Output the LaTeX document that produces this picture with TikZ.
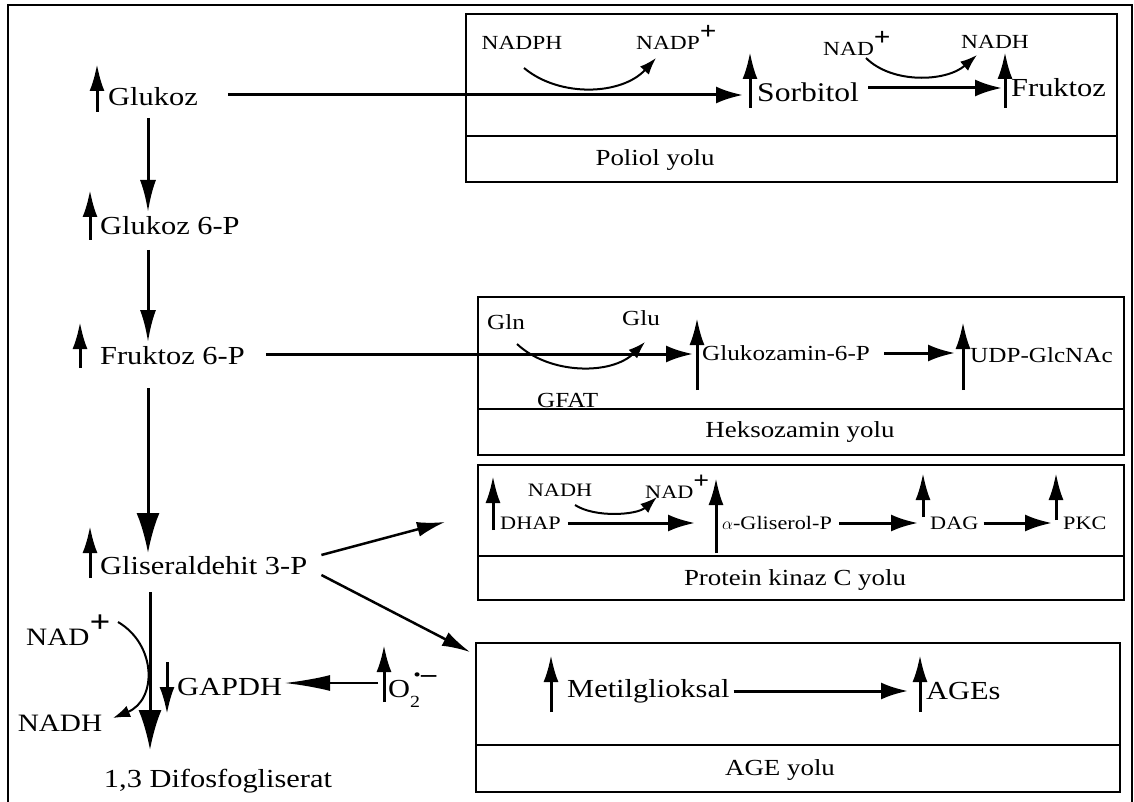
\documentclass[tikz,border=0pt]{standalone}
\usepackage{fontspec}
\setmainfont[FakeStretch=1.17]{Liberation Serif}
\usetikzlibrary{arrows.meta}
\newcommand{\plusup}{\raisebox{0.5em}{\scalebox{1.25}{\textbf{+}}}}
\begin{document}
\begin{tikzpicture}[x=1pt,y=-1pt,
  big/.style={font=\fontsize{26}{28}\selectfont, inner sep=0pt, anchor=west},
  cof/.style={font=\fontsize{20}{22}\selectfont, inner sep=0pt},
  cofL/.style={font=\fontsize{25}{27}\selectfont, inner sep=0pt},
  mid/.style={font=\fontsize{21.5}{23}\selectfont, inner sep=0pt, anchor=west},
  sml/.style={font=\fontsize{19}{21}\selectfont, inner sep=0pt, anchor=west},
  lab/.style={font=\fontsize{23}{25}\selectfont, inner sep=0pt},
  pbox/.style={draw, line width=2.5pt},
  flow/.style={line width=3pt, -{Latex[length=27pt,width=17pt]}},
  vflow/.style={line width=3pt, -{Latex[length=32pt,width=16pt]}},
  bigflow/.style={line width=3pt, -{Latex[length=40pt,width=23pt]}},
  upar/.style={line width=3pt, -{Latex[length=27pt,width=15pt]}},
  curv/.style={line width=2pt, -{Latex[length=17pt,width=12pt]}},
  slim/.style={line width=2.5pt, -{Latex[length=28pt,width=15pt]}},
  harp/.style={line width=2.5pt, -{Latex[length=46pt,width=16pt]}},
]
\useasboundingbox (0,0) rectangle (1134,802);
% outer frame
\draw[line width=2pt] (8,810) -- (8,5) -- (1132,5) -- (1132,810);

% ---- boxes
\draw[pbox] (466,14) rectangle (1117,182);
\draw[pbox] (466,136) -- (1117,136);
\node[lab] (polL) at (655,160) {Poliol yolu};

\draw[pbox] (478,297) rectangle (1124,455);
\draw[pbox] (478,409) -- (1124,409);
\node[lab] (hexL) at (800,432) {Heksozamin yolu};

\draw[pbox] (478,465) rectangle (1124,600);
\draw[pbox] (478,556) -- (1124,556);
\node[lab] (pkcL) at (795,580) {Protein kinaz C yolu};

\draw[pbox] (476,643) rectangle (1120,792);
\draw[pbox] (476,745) -- (1120,745);
\node[lab] (ageL) at (780,770) {AGE yolu};

% ---- left column
\node[big] (glc) at (108,97) {Glukoz};
\draw[upar] (97,112) -- (97,64);
\node[big] (g6p) at (100,226) {Glukoz 6-P};
\draw[upar] (90,240) -- (90,190);
\node[big] (f6p) at (100,356) {Fruktoz 6-P};
\draw[upar] (80,368) -- (80,322);
\node[big] (g3p) at (100,566) {Gliseraldehit 3-P};
\draw[upar] (90,578) -- (90,526);
\node[big, anchor=center] (dfg) at (218,781) {1,3 Difosfogliserat};

\draw[vflow] (148,118) -- (148,212);
\draw[vflow] (148,250) -- (148,342);
\draw[bigflow] (148,388) -- (148,553);
\draw[bigflow] (150,592) -- (150,750);

% ---- poliol
\node[big, font=\fontsize{27}{29}\selectfont] (sorb) at (757,92) {Sorbitol};
\draw[upar] (750,108) -- (750,52);
\node[big] (fru) at (1011,88) {Fruktoz};
\draw[upar] (1005,108) -- (1005,52);
\draw[flow] ([xshift=30pt,yshift=2pt]glc.east) -- ([xshift=-14pt,yshift=2pt]sorb.west |- glc.east);
\draw[flow] ([xshift=9pt]sorb.east |- fru.west) -- ([xshift=-9pt]fru.west);
\node[cof] (nadph) at (522,43) {NADPH};
\node[cof, anchor=west] (nadp) at (636,37) {NADP\plusup};
\node[cof, anchor=west] (nad1) at (823,43) {NAD\plusup};
\node[cof] (nadh1) at (995,42) {NADH};
\draw[curv] (524,68) .. controls (560,98) and (622,95) .. (656,58);
\draw[curv] (866,58) .. controls (892,84) and (946,82) .. (977,55);

% ---- heksozamin
\node[mid] (gln) at (487,322) {Gln};
\node[mid] (glu) at (622,318) {Glu};
\node[mid] (gfat) at (537,400) {GFAT};
\draw[curv] (517,344) .. controls (550,375) and (612,375) .. (645,342);
\node[mid] (gam) at (702,353) {Glukozamin-6-P};
\draw[upar] (697,390) -- (697,318);
\node[mid] (udp) at (970,355) {UDP-GlcNAc};
\draw[upar] (963,390) -- (963,322);
\draw[flow] ([xshift=21pt,yshift=2pt]f6p.east) -- ([xshift=-9pt,yshift=2pt]gam.west |- f6p.east);
\draw[flow] ([xshift=14pt]gam.east) -- ([xshift=-15pt]udp.west |- gam.east);

% ---- PKC
\node[sml] (dhap) at (500,523) {DHAP};
\draw[upar] (493,530) -- (493,476);
\node[sml, anchor=center] (nadh2) at (560,490) {NADH};
\node[sml, anchor=west] (nad2) at (645,487) {NAD\plusup};
\draw[curv] (575,505) .. controls (595,518) and (637,515) .. (657,497);
\node[sml] (agp) at (722,523) {$\alpha$-Gliserol-P};
\draw[upar] (716,553) -- (716,478);
\node[sml] (dag) at (930,523) {DAG};
\draw[upar] (923,517) -- (923,473);
\node[sml] (pkc) at (1063,523) {PKC};
\draw[upar] (1056,520) -- (1056,473);
\draw[flow] ([xshift=7pt]dhap.east) -- ([xshift=-27pt]agp.west);
\draw[flow] ([xshift=7pt]agp.east) -- ([xshift=-12pt]dag.west);
\draw[flow] ([xshift=5pt]dag.east) -- ([xshift=-11pt]pkc.west);

% ---- AGE
\node[big] (mgo) at (567,691) {Metilglioksal};
\draw[upar] (551,712) -- (551,655);
\node[big] (ages) at (926,691) {AGEs};
\draw[upar] (920,712) -- (920,655);
\draw[flow] ([xshift=4pt]mgo.east) -- ([xshift=-18pt]ages.west);

% ---- branches from G3P
\draw[slim] ([xshift=14pt,yshift=11pt]g3p.east) -- (445,522);
\draw[slim] ([xshift=14pt,yshift=-9pt]g3p.east) -- (470,652);

% ---- GAPDH region
\node[cofL, anchor=west] (nad3) at (26,630) {NAD\plusup};
\node[cofL] (nadh3) at (60,723) {NADH};
\draw[curv] (118,622) .. controls (157,645) and (157,700) .. (113,718);
\node[big] (gapdh) at (177,687) {GAPDH};
\draw[upar] (167,662) -- (167,714);
\node[big] (o2) at (388,690) {O\rlap{\raisebox{-0.35em}{\fontsize{17}{17}\selectfont 2}}\rlap{\raisebox{0.55em}{\kern2pt\textbf{·}}}\kern11pt\raisebox{0.6em}{\textbf{–}}};
\draw[upar] (384,702) -- (384,645);
\draw[harp] ([xshift=-10pt,yshift=4pt]o2.west |- gapdh.east) -- ([xshift=2pt,yshift=4pt]gapdh.east);
\end{tikzpicture}
\end{document}
